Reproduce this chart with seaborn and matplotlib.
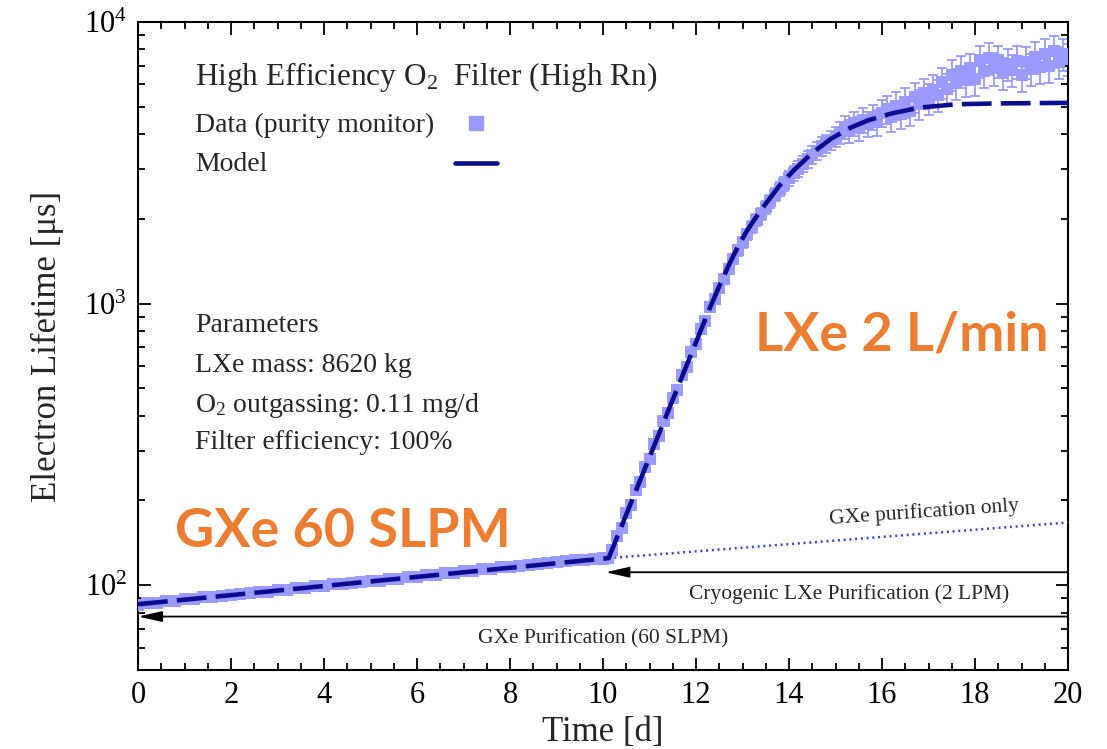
import numpy as np
import pandas as pd
import seaborn as sns
import matplotlib
matplotlib.use("Agg")
import matplotlib.pyplot as plt
from matplotlib.lines import Line2D
from matplotlib.ticker import MultipleLocator, LogLocator, LogFormatterMathtext, NullFormatter

# ---- purity monitor data: gas-phase purification period (days, µs) ----
gxe_t = [0.0, 0.2, 0.4, 0.6, 0.8, 1.0, 1.2, 1.4, 1.6, 1.8,
         2.0, 2.2, 2.4, 2.6, 2.8, 3.0, 3.2, 3.4, 3.6, 3.8,
         4.0, 4.2, 4.4, 4.6, 4.8, 5.0, 5.2, 5.4, 5.6, 5.8,
         6.0, 6.2, 6.4, 6.6, 6.8, 7.0, 7.2, 7.4, 7.6, 7.8,
         8.0, 8.2, 8.4, 8.6, 8.8, 9.0, 9.2, 9.4, 9.6, 9.8,
         10.0, 10.1]
gxe_v = [85.2, 86.5, 86.6, 87.9, 88.0, 89.3, 89.2, 90.6, 90.7, 91.9,
         92.0, 93.4, 93.5, 94.8, 94.9, 96.2, 96.3, 97.6, 97.8, 99.1,
         99.2, 100.6, 100.8, 102.1, 102.3, 103.7, 103.9, 105.3, 105.5, 106.9,
         107.2, 108.6, 108.9, 110.3, 110.6, 112.0, 112.4, 113.8, 114.3, 115.6,
         116.2, 117.4, 118.1, 119.2, 120.0, 121.0, 121.8, 122.6, 123.3, 123.8,
         124.4, 125.0]

# ---- purity monitor data: liquid-phase purification period ----
lxe_t = [10.2, 10.3, 10.4, 10.5, 10.6, 10.7, 10.8, 10.9, 11.0,
         11.1, 11.2, 11.3, 11.4, 11.5, 11.6, 11.7, 11.8, 11.9, 12.0,
         12.1, 12.2, 12.3, 12.4, 12.5, 12.6, 12.7, 12.8, 12.9, 13.0,
         13.1, 13.2, 13.3, 13.4, 13.5, 13.6, 13.7, 13.8, 13.9, 14.0,
         14.1, 14.2, 14.3, 14.4, 14.5, 14.6, 14.7, 14.8, 14.9, 15.0,
         15.1, 15.2, 15.3, 15.4, 15.5, 15.6, 15.7, 15.8, 15.9, 16.0,
         16.1, 16.2, 16.3, 16.4, 16.5, 16.6, 16.7, 16.8, 16.9, 17.0,
         17.1, 17.2, 17.3, 17.4, 17.5, 17.6, 17.7, 17.8, 17.9, 18.0,
         18.1, 18.2, 18.3, 18.4, 18.5, 18.6, 18.7, 18.8, 18.9, 19.0,
         19.1, 19.2, 19.3, 19.4, 19.5, 19.6, 19.7, 19.8, 19.9, 20.0]
lxe_v = [133, 149, 160, 181, 193, 218, 233, 263, 281,
         318, 339, 383, 409, 462, 494, 558, 596, 672, 720,
         812, 868, 975, 1040, 1140, 1225, 1330, 1440, 1545, 1650,
         1768, 1870, 1985, 2080, 2200, 2310, 2440, 2560, 2660, 2790,
         2900, 3010, 3140, 3260, 3380, 3490, 3620, 3700, 3810, 3920,
         4050, 4250, 4100, 4380, 4200, 4500, 4350, 4600, 4400, 4750,
         4900, 4600, 5050, 4700, 5200, 4850, 5400, 5100, 5600, 5350,
         5750, 5500, 6100, 5800, 6500, 6050, 6700, 6200, 6850, 6300,
         7300, 6700, 7450, 6850, 7300, 6600, 7100, 6750, 7250, 6500,
         7200, 6800, 7500, 6900, 7700, 7000, 7900, 7200, 7700, 7400]
lxe_err = [4, 4, 5, 5, 6, 6, 7, 8, 9,
           10, 11, 12, 13, 15, 16, 18, 20, 22, 24,
           27, 30, 34, 38, 43, 48, 53, 60, 66, 73,
           80, 88, 96, 105, 114, 124, 134, 145, 156, 168,
           180, 195, 210, 225, 240, 255, 270, 285, 300, 320,
           360, 400, 380, 430, 410, 460, 440, 480, 460, 520,
           550, 520, 580, 540, 620, 580, 650, 620, 700, 680,
           720, 700, 780, 740, 830, 780, 860, 800, 880, 820,
           950, 880, 970, 900, 950, 860, 920, 880, 950, 850,
           940, 890, 980, 900, 1000, 910, 1030, 940, 1000, 960]

# ---- purification model ----
model_t = [0.0, 10.12, 12.3, 12.5, 12.7, 12.9, 13.1, 13.3, 13.5, 13.8,
           14.1, 14.5, 14.9, 15.3, 15.7, 16.2, 16.8, 17.6, 18.5, 20.0]
model_v = [85.6, 124.8, 967, 1153, 1365, 1592, 1820, 2037, 2265, 2630,
           2972, 3428, 3846, 4198, 4477, 4732, 4966, 5105, 5140, 5164]

# model without the liquid purification stage
gxe_only_t = [10.12, 20.0]
gxe_only_v = [124.8, 167.0]

# purification stage markers
gxe_stage_level = 77.4
lxe_stage_level = 111.2
lxe_stage_start = 10.05

DATA_COLOR = "#9b9bff"
MODEL_COLOR = "#0c0c8e"
ORANGE = "#ED7D31"

sns.set_theme(style="ticks")
plt.rcParams["font.family"] = ["Liberation Serif", "DejaVu Serif"]
plt.rcParams["mathtext.fontset"] = "custom"
plt.rcParams["mathtext.rm"] = "Liberation Serif"
plt.rcParams["mathtext.it"] = "Liberation Serif:italic"
plt.rcParams["mathtext.default"] = "regular"

fig = plt.figure(figsize=(11.07, 7.49), dpi=100)
ax = fig.add_axes([0.1247, 0.1055, 0.8401, 0.8651])

data = pd.DataFrame({"t": gxe_t + lxe_t, "v": gxe_v + lxe_v})
model = pd.DataFrame({"t": model_t, "v": model_v})
gxe_only = pd.DataFrame({"t": gxe_only_t, "v": gxe_only_v})

ax.errorbar(lxe_t, lxe_v, yerr=lxe_err, fmt="none", ecolor=DATA_COLOR,
            elinewidth=1.3, capsize=3.5, capthick=1.3, zorder=2)
sns.scatterplot(data=data, x="t", y="v", marker="s", s=75, color=DATA_COLOR,
                edgecolor="none", linewidth=0, ax=ax, zorder=3, legend=False)
sns.lineplot(data=gxe_only, x="t", y="v", color="#4343c4", linewidth=1.8,
             linestyle=(0, (0.8, 1.5)), ax=ax, zorder=4, estimator=None, sort=False)
sns.lineplot(data=model, x="t", y="v", color=MODEL_COLOR, linewidth=3.3,
             linestyle=(0, (6.5, 2)), ax=ax, zorder=5, estimator=None, sort=False)

# purification stage arrows
arrow_kw = dict(arrowstyle="-|>,head_length=0.9,head_width=0.2", color="black",
                lw=1.3, shrinkA=0, shrinkB=0, mutation_scale=16)
ax.annotate("", xy=(0.0, gxe_stage_level), xytext=(20.0, gxe_stage_level),
            arrowprops=arrow_kw, zorder=4)
ax.annotate("", xy=(lxe_stage_start, lxe_stage_level), xytext=(20.0, lxe_stage_level),
            arrowprops=arrow_kw, zorder=4)
ax.text(10.0, 64.3, "GXe Purification (60 SLPM)", ha="center", va="center", fontsize=15.5)
ax.text(15.3, 93.0, "Cryogenic LXe Purification (2 LPM)", ha="center", va="center", fontsize=15.5)
ax.text(16.9, 181.0, "GXe purification only", ha="center", va="center",
        fontsize=15.5, rotation=4)

ax.set_xlim(0, 20)
ax.set_yscale("log")
ax.set_ylim(50, 1e4)
ax.xaxis.set_major_locator(MultipleLocator(2))
ax.xaxis.set_minor_locator(MultipleLocator(0.5))
ax.yaxis.set_major_locator(LogLocator(base=10))
ax.yaxis.set_major_formatter(LogFormatterMathtext())
ax.yaxis.set_minor_locator(LogLocator(base=10, subs=np.arange(2, 10)))
ax.yaxis.set_minor_formatter(NullFormatter())
ax.tick_params(which="both", direction="in", top=True, right=True, width=1.3,
               colors="black", labelsize=22)
ax.tick_params(which="major", length=9, pad=8)
ax.tick_params(which="minor", length=5)
for sp in ax.spines.values():
    sp.set_linewidth(1.5)
    sp.set_color("black")

ax.set_xlabel("Time [d]", fontsize=25, labelpad=4)
ax.set_ylabel("Electron Lifetime [μs]", fontsize=25, labelpad=14)

# key: title and labels on the left, symbols in a column on the right
ax.text(0.0613, 0.9028, "High Efficiency O$_2$  Filter (High Rn)", transform=ax.transAxes,
        fontsize=22.5, ha="left", va="baseline")
key_labels = ["Data (purity monitor)", "Model"]
key_y = [0.8302, 0.7700]
for txt, yy in zip(key_labels, key_y):
    ax.text(0.0613, yy, txt, transform=ax.transAxes, fontsize=20, ha="left", va="baseline")
handles = [Line2D([], [], marker="s", linestyle="none", color=DATA_COLOR, markersize=9.5),
           Line2D([], [], color=MODEL_COLOR, linewidth=3.3)]
ax.legend(handles, ["", ""], loc="upper left", bbox_to_anchor=(0.3409, 0.8587),
          frameon=False, fontsize=20, borderpad=0, borderaxespad=0, handlelength=1.5,
          handletextpad=0, labelspacing=0.5)

params = ["Parameters", "LXe mass: 8620 kg", "O$_2$ outgassing: 0.11 mg/d",
          "Filter efficiency: 100%"]
param_y = [0.5216, 0.4599, 0.3981, 0.3410]
for txt, yy in zip(params, param_y):
    ax.text(0.0613, yy, txt, transform=ax.transAxes, fontsize=20, ha="left", va="baseline")

ax.text(0.0398, 0.1898, "GXe 60 SLPM", transform=ax.transAxes, fontsize=39,
        fontfamily="Lato", fontweight="bold", color=ORANGE, ha="left", va="baseline")
ax.text(0.6634, 0.4938, "LXe 2 L/min", transform=ax.transAxes, fontsize=39,
        fontfamily="Lato", fontweight="bold", color=ORANGE, ha="left", va="baseline")

fig.savefig("out.png", dpi=100, facecolor="white")
